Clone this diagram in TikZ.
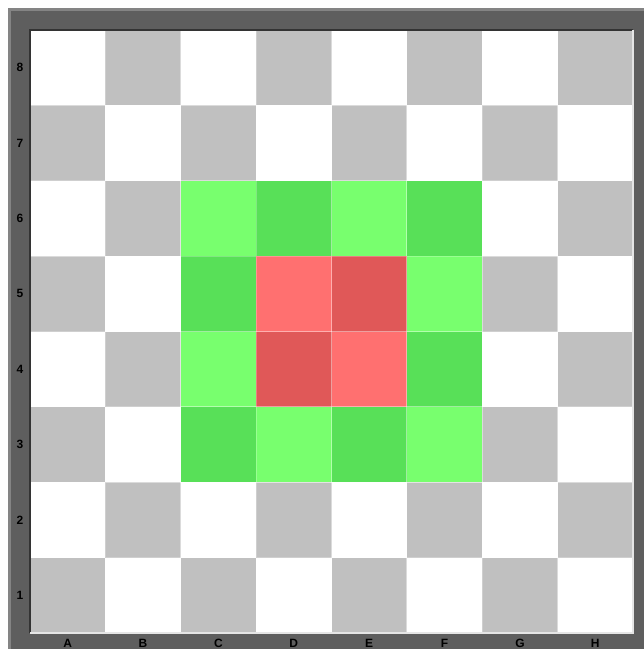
\documentclass[tikz,border=0pt]{standalone}
\usepackage{fontspec}
\newfontfamily\boardfont{Liberation Sans}
\usepackage{tikz}
\usetikzlibrary{positioning}
\definecolor{framegray}{RGB}{94,94,94}
\definecolor{rimgray}{RGB}{132,132,132}
\definecolor{darksq}{RGB}{192,192,192}
\definecolor{lightgreen}{RGB}{120,255,110}
\definecolor{darkgreen}{RGB}{88,224,88}
\definecolor{lightred}{RGB}{255,112,112}
\definecolor{darkred}{RGB}{224,88,88}

\begin{document}
\begin{tikzpicture}[
 x=1pt,y=-1pt,
 sq/.style={minimum size=75.375pt,inner sep=0pt,outer sep=0pt,draw=white,draw opacity=0.25,line width=0.8pt},
 coordlabel/.style={font=\boardfont\bfseries\fontsize{12}{12}\selectfont,text=black,inner sep=0pt}
]
\clip (0,0) rectangle (644,649);
\fill[white] (0,0) rectangle (644,649);
\fill[rimgray] (8,8) rectangle (660,660);
\fill[framegray] (11,11) rectangle (660,660);
\node[minimum size=603pt,inner sep=0pt,outer sep=0pt] (board) at (331.5,331.5) {};
% squares
\foreach \f [count=\i] in {a,...,h} {
  \foreach \r in {1,...,8} {
    \ifodd\numexpr\i+\r\relax \def\sqfill{white}\else \def\sqfill{darksq}\fi
    \node[sq,fill=\sqfill] (sq-\f\r) at ({30+(\i-0.5)*75.375},{30+(8.5-\r)*75.375}) {};
  }
}
% highlighted squares
\foreach \f/\r/\c in {c/6/lightgreen,d/6/darkgreen,e/6/lightgreen,f/6/darkgreen,
                      c/5/darkgreen,d/5/lightred,e/5/darkred,f/5/lightgreen,
                      c/4/lightgreen,d/4/darkred,e/4/lightred,f/4/darkgreen,
                      c/3/darkgreen,d/3/lightgreen,e/3/darkgreen,f/3/lightgreen}
  \node[sq,fill=\c] (hl-\f\r) at (sq-\f\r) {};
% bevel
\draw[black!80,line width=1.2pt] (board.south west) -- (board.north west) -- (board.north east);
\draw[white!80!gray,line width=1.2pt] (board.north east) -- (board.south east) -- (board.south west);
% labels
\foreach \r in {1,...,8}
  \node[coordlabel] (rank-\r) at ([xshift=-10pt]sq-a\r.west) {\r};
\foreach \f/\F in {a/A,b/B,c/C,d/D,e/E,f/F,g/G,h/H}
  \node[coordlabel] (file-\f) at ([yshift=-10.5pt]sq-\f1.south) {\F};
\end{tikzpicture}
\end{document}
